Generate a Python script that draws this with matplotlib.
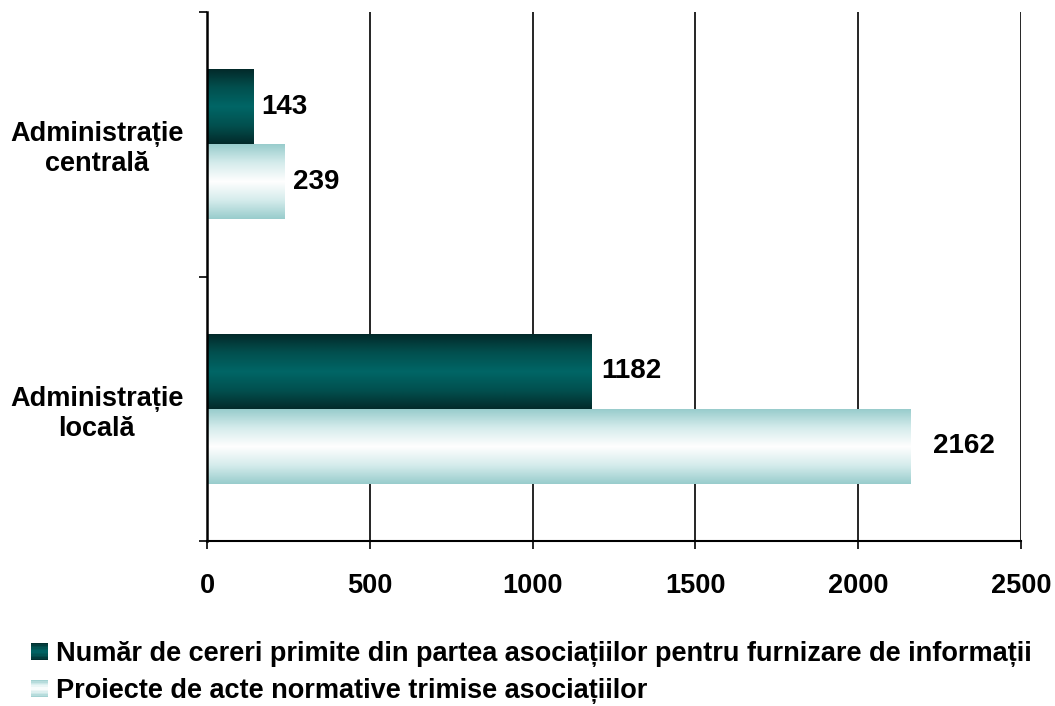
import numpy as np
import matplotlib
matplotlib.use("Agg")
import matplotlib.pyplot as plt
from matplotlib.patches import Rectangle
from matplotlib.legend_handler import HandlerBase
from matplotlib.colors import LinearSegmentedColormap

categories = ["Administrație\ncentrală", "Administrație\nlocală"]
series_names = ["Număr de cereri primite din partea asociațiilor pentru furnizare de informații",
                "Proiecte de acte normative trimise asociațiilor"]
cereri = [143, 1182]
proiecte = [239, 2162]
xticks = [0, 500, 1000, 1500, 2000, 2500]

plt.rcParams['font.family'] = ['Liberation Sans', 'DejaVu Sans']
plt.rcParams['font.weight'] = 'bold'
FS = 19.5

dark_cmap = LinearSegmentedColormap.from_list("dk", ["#022a2a", "#02504f", "#006666", "#02504f", "#022a2a"])
light_cmap = LinearSegmentedColormap.from_list("lt", ["#98cccc", "#d5ecec", "#ffffff", "#d5ecec", "#98cccc"])

fig = plt.figure(figsize=(10.55, 7.06), dpi=100)
ax = fig.add_axes([207/1055, 1-541/706, (1021-207)/1055, (541-12)/706])

y = np.arange(len(categories))
h = 0.283
bars1 = ax.barh(y - h/2, cereri, height=h, color="#006464", linewidth=0, zorder=3)
bars2 = ax.barh(y + h/2, proiecte, height=h, color="#d0eaea", linewidth=0, zorder=3)

grad = np.linspace(0, 1, 256).reshape(-1, 1)
for bars, cmap in ((bars1, dark_cmap), (bars2, light_cmap)):
    for b in bars:
        x0, y0, w, hh = b.get_x(), b.get_y(), b.get_width(), b.get_height()
        im = ax.imshow(grad, cmap=cmap, aspect='auto', extent=(x0, x0 + w, y0 + hh, y0),
                       zorder=4, interpolation='bilinear')
        im.set_clip_path(b)

offsets = {0: [8, 8], 1: [9, 22]}
for i, (b1, b2) in enumerate(zip(bars1, bars2)):
    for j, b in enumerate((b1, b2)):
        ax.annotate(f"{int(b.get_width())}", (b.get_width(), b.get_y() + b.get_height()/2),
                    xytext=(offsets[i][j] * 0.72, 0), textcoords='offset points',
                    ha='left', va='center', fontsize=20, fontweight='bold', zorder=5)

ax.set_xlim(0, 2500)
ax.set_ylim(1.5, -0.5)
ax.set_xticks(xticks)
ax.set_xticklabels([str(v) for v in xticks], fontsize=FS, fontweight='bold')
ax.set_yticks([-0.5, 0.5, 1.5])
ax.set_yticklabels([])
ax.set_yticks(y, minor=True)
ax.set_yticklabels(categories, minor=True, fontsize=FS, fontweight='bold', multialignment='center')
ax.tick_params(axis='y', which='minor', length=0, pad=17)
ax.tick_params(axis='y', which='major', length=6, width=1.2, direction='out')
ax.tick_params(axis='x', length=6, width=1.2, direction='out', pad=17)
ax.grid(axis='x', color='black', linewidth=1.2, zorder=0)
ax.set_axisbelow(True)
for s in ('top', 'right'):
    ax.spines[s].set_visible(False)
ax.spines['left'].set_linewidth(1.8)
ax.spines['bottom'].set_linewidth(1.5)
ax.spines['left'].set_zorder(6)
ax.spines['bottom'].set_zorder(6)


class GradHandler(HandlerBase):
    def __init__(self, cmap):
        super().__init__()
        self.cmap = cmap

    def create_artists(self, legend, orig_handle, xdescent, ydescent, width, height, fontsize, trans):
        n = 12
        arts = []
        s = 12.5
        x0 = -xdescent + (width - s) / 2
        y0 = -ydescent + (height - s) / 2
        for k in range(n):
            r = Rectangle((x0, y0 + s * k / n), s, s / n + 0.01, facecolor=self.cmap(1 - (k + 0.5) / n),
                          edgecolor='none', transform=trans)
            arts.append(r)
        return arts


h1 = Rectangle((0, 0), 1, 1)
h2 = Rectangle((0, 0), 1, 1)
fig.legend([h1, h2], series_names, handler_map={h1: GradHandler(dark_cmap), h2: GradHandler(light_cmap)},
           loc='upper left', bbox_to_anchor=(30/1055, 1-641/706), frameon=False,
           prop={'size': FS, 'weight': 'bold'}, handlelength=0.7, handletextpad=0.25,
           labelspacing=0.4, borderaxespad=0, borderpad=0)

fig.savefig("out.png", dpi=100)
